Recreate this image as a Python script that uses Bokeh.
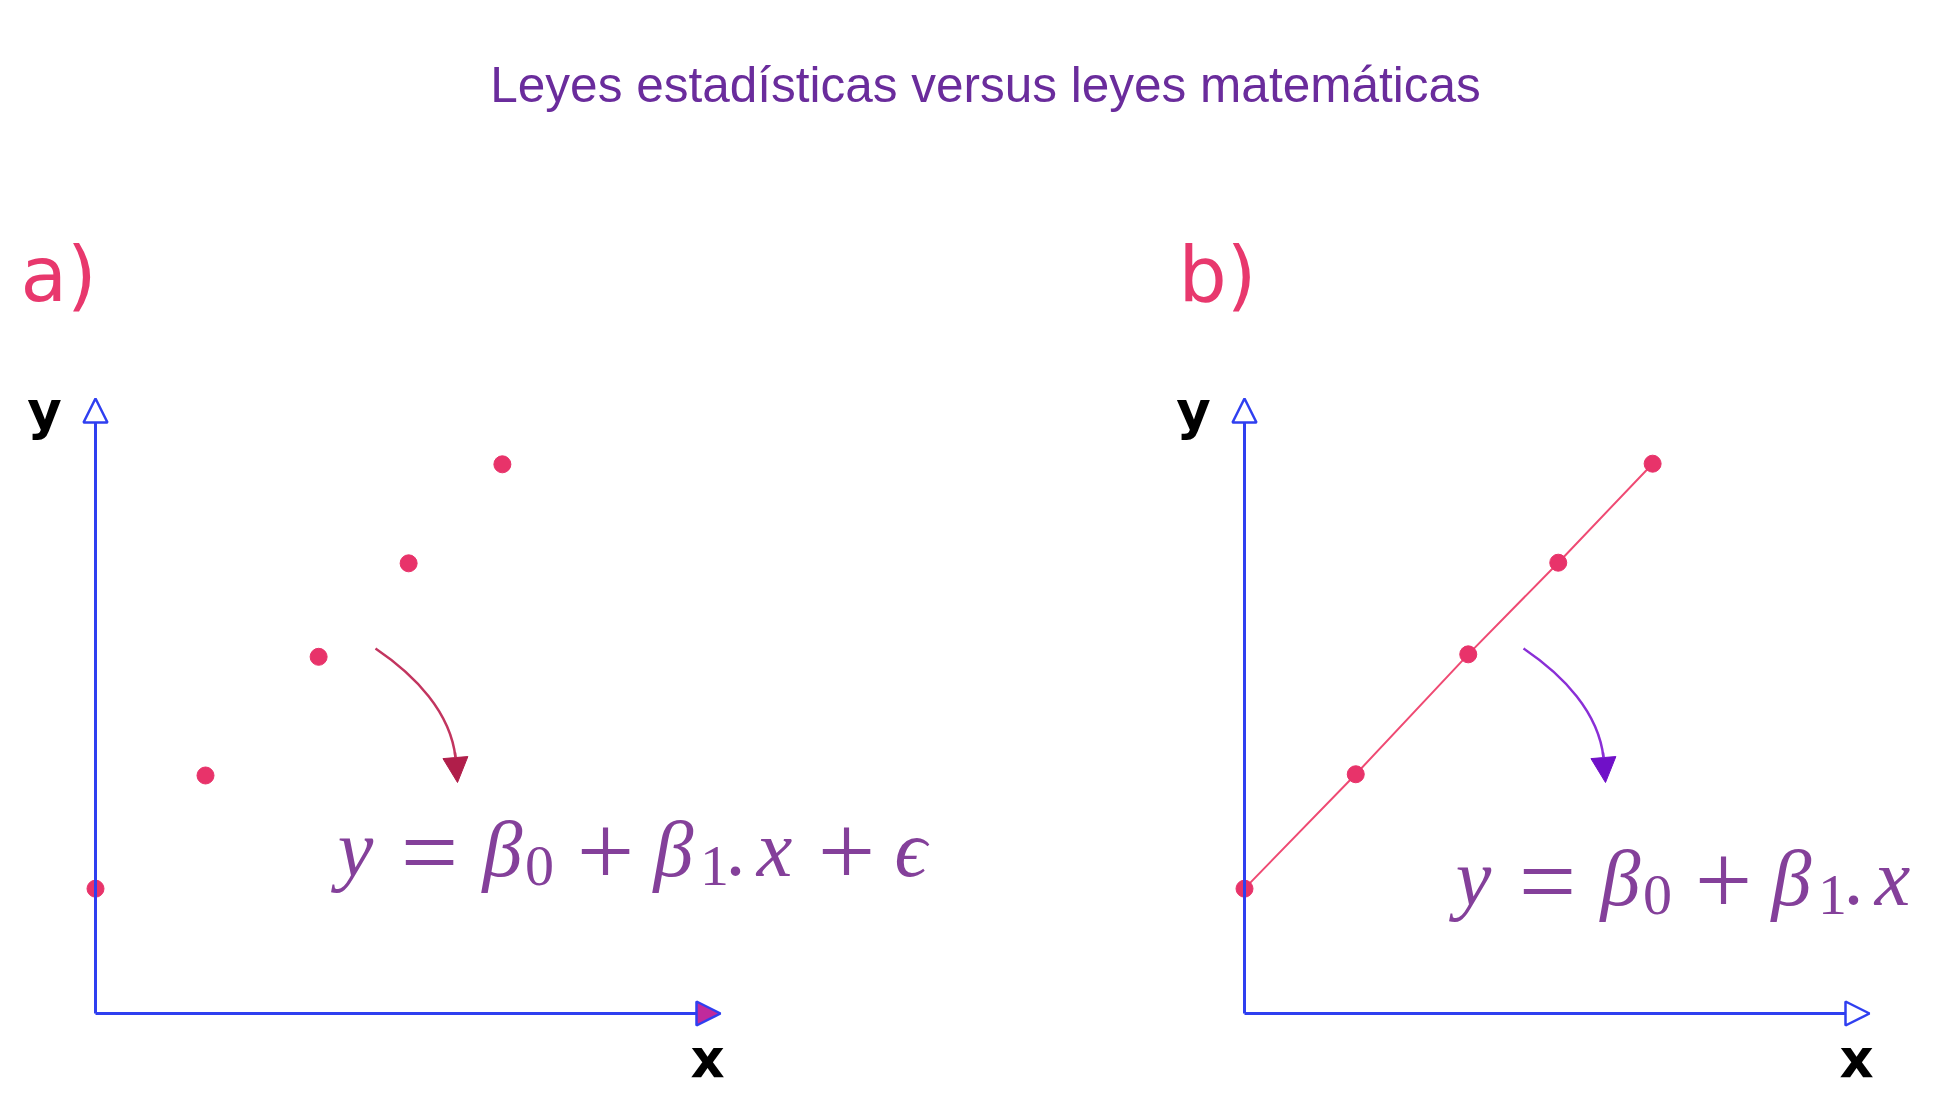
from bokeh.plotting import figure
from bokeh.models import Range1d, Label, Arrow, NormalHead
from bokeh.embed import file_html
from bokeh.resources import INLINE

# ---------------- data ----------------
title_text = "Leyes estadísticas versus leyes matemáticas"
panel_labels = ["a)", "b)"]
axis_x_label = "x"
axis_y_label = "y"

# panel a: scattered observations (statistical law)
panel_a_x = [0.0, 1.76, 3.57, 5.01, 6.51]
panel_a_y = [2.03, 3.87, 5.80, 7.32, 8.93]
# panel b: exact line (mathematical law)
panel_b_x = [0.0, 1.78, 3.58, 5.02, 6.53]
panel_b_y = [2.03, 3.89, 5.84, 7.33, 8.94]
axis_length = 10

# equation pieces
eq_a_pieces = ["y", "=", "β", "0", "+", "β", "1", ".", "x", "+", "ϵ"]
eq_b_pieces = ["y", "=", "β", "0", "+", "β", "1", ".", "x"]
piece_kind = ["it", "op", "it", "sub", "op", "it", "sub", "dot", "it", "op", "it"]

# ---------------- layout / styles ----------------
W, H = 1958, 1094
BLUE = "#2f3ff0"
DOT = "#e8336a"
LINE_B = "#ef4a73"
EQ = "#84409a"
LAB = "#e8386d"
K = 0.37  # baseline correction (fraction of font size)

p = figure(width=W, height=H, x_range=Range1d(0, W), y_range=Range1d(H, 0),
           output_backend="svg", toolbar_location=None, min_border=0,
           x_axis_location=None, y_axis_location=None, outline_line_color=None,
           background_fill_color="white", border_fill_color="white")
p.grid.visible = False


def label(x, base, text, size, font, color, align="left", style="normal"):
    p.add_layout(Label(x=x, y=base - K * size, text=text, text_align=align,
                       text_baseline="alphabetic", text_font=font,
                       text_font_style=style, text_font_size=f"{size}px",
                       text_color=color))


# panel coordinate systems (origin pixel, px per unit)
panels = {"a": (95, 1013), "b": (1244, 1013)}
ux, uy = 62.5, 61.5
for name, (ox, oy) in panels.items():
    p.extra_x_ranges[name] = Range1d(-ox / ux, (W - ox) / ux)
    p.extra_y_ranges[name] = Range1d((oy - H) / uy, oy / uy)

# title
label(985, 102, title_text, 49.5, "Liberation Sans", "#6a2c9c", align="center")

for i, (name, lab_x) in enumerate((("a", 20), ("b", 1178))):
    ox, oy = panels[name]
    label(lab_x, 302, panel_labels[i], 76, "DejaVu Sans", LAB)
    xfill = "#c02a9c" if name == "a" else "white"
    p.add_layout(Arrow(x_start=0, y_start=0, x_end=axis_length, y_end=0,
                       x_range_name=name, y_range_name=name,
                       line_color=BLUE, line_width=3,
                       end=NormalHead(size=24, fill_color=xfill, line_color=BLUE, line_width=2.5)))
    p.add_layout(Arrow(x_start=0, y_start=0, x_end=0, y_end=axis_length,
                       x_range_name=name, y_range_name=name,
                       line_color=BLUE, line_width=3,
                       end=NormalHead(size=24, fill_color="white", line_color=BLUE, line_width=2.5)))
    label(ox - 51, 430, axis_y_label, 53, "DejaVu Sans", "black", align="center", style="bold")
    label(ox + 612, 1078, axis_x_label, 53, "DejaVu Sans", "black", align="center", style="bold")

# data
p.line(panel_b_x, panel_b_y, x_range_name="b", y_range_name="b", line_color=LINE_B, line_width=2)
p.scatter(panel_a_x, panel_a_y, x_range_name="a", y_range_name="a", size=17,
          fill_color=DOT, line_color=DOT)
p.scatter(panel_b_x, panel_b_y, x_range_name="b", y_range_name="b", size=17,
          fill_color=DOT, line_color=DOT)

# curved pointer arrows
for dx, lc, hc in ((0, "#c2355f", "#b01e4a"), (1148, "#8a2fd6", "#7010c8")):
    p.bezier(x0=375 + dx, y0=648, x1=455 + dx, y1=757, cx0=415 + dx, cy0=675,
             cx1=450 + dx, cy1=712, line_color=lc, line_width=2.5)
    p.add_layout(Arrow(x_start=454.5 + dx, y_start=752, x_end=457 + dx, y_end=782,
                       line_color=lc, line_width=2.5,
                       end=NormalHead(size=25, fill_color=hc, line_color=hc, line_width=1)))

# equations
offsets = [20, 94, 167, 204, 270, 338, 379, 400, 439, 511, 575]
SERIF = "Liberation Serif"
for pieces, x0, base in ((eq_a_pieces, 335, 878), (eq_b_pieces, 1453, 907)):
    for txt, off, kind in zip(pieces, offsets, piece_kind):
        if kind == "sub":
            label(x0 + off, base + 9, txt, 58, SERIF, EQ, align="center")
        elif kind == "op":
            label(x0 + off, base + 11, txt, 102, SERIF, EQ, align="center")
        elif kind == "dot":
            label(x0 + off, base, txt, 80, SERIF, EQ, align="center")
        else:
            label(x0 + off, base, txt, 80, SERIF, EQ, align="center", style="italic")

open("out.html", "w").write(file_html(p, INLINE))
